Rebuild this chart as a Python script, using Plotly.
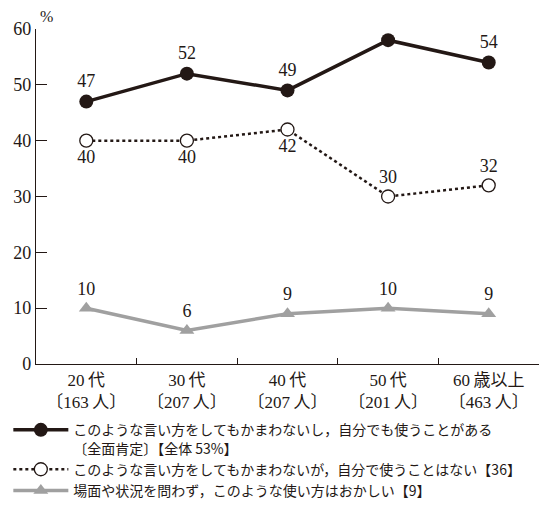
import plotly.graph_objects as go

categories = ["20\u2009代<br>〔163\u2009人〕", "30\u2009代<br>〔207\u2009人〕", "40\u2009代<br>〔207\u2009人〕",
              "50\u2009代<br>〔201\u2009人〕", "60\u2009歳以上<br>〔463\u2009人〕"]
full_yes = [47, 52, 49, 58, 54]
ok_not_use = [40, 40, 42, 30, 32]
strange = [10, 6, 9, 10, 9]
names = [
    "このような言い方をしてもかまわないし，自分でも使うことがある<br>〔全面肯定〕【全体\u200953%】",
    "このような言い方をしてもかまわないが，自分で使うことはない【36】",
    "場面や状況を問わず，このような使い方はおかしい【9】",
]
ok_pos = ["bottom center", "bottom center", "bottom center", "top center", "top center"]

DARK = "#231815"
GRAY = "#a0a0a0"
NUMFONT = "Liberation Serif"
TICKFONT = "'Liberation Serif', 'Noto Sans CJK JP', serif"

fig = go.Figure()
fig.add_trace(go.Scatter(
    x=categories, y=full_yes, name=names[0], mode="lines+markers+text",
    text=[str(v) for v in full_yes], textposition="top center",
    textfont=dict(family=NUMFONT, size=18, color=DARK),
    line=dict(color=DARK, width=3.5),
    marker=dict(symbol="circle", size=14, color=DARK),
))
fig.add_trace(go.Scatter(
    x=categories, y=ok_not_use, name=names[1], mode="lines+markers+text",
    text=[str(v) for v in ok_not_use], textposition=ok_pos,
    textfont=dict(family=NUMFONT, size=18, color=DARK),
    line=dict(color=DARK, width=2.5, dash="dot"),
    marker=dict(symbol="circle", size=13, color="white", line=dict(color=DARK, width=1.3)),
))
fig.add_trace(go.Scatter(
    x=categories, y=strange, name=names[2], mode="lines+markers+text",
    text=[str(v) for v in strange], textposition="top center",
    textfont=dict(family=NUMFONT, size=18, color=DARK),
    line=dict(color=GRAY, width=3.5),
    marker=dict(symbol="triangle-up", size=13, color=GRAY),
))

fig.update_layout(
    width=549, height=509,
    margin=dict(l=36, r=10, t=29, b=145, autoexpand=False),
    paper_bgcolor="white", plot_bgcolor="white",
    font=dict(family=TICKFONT, color=DARK, size=16),
    showlegend=True,
    legend=dict(
        x=-0.055, y=-0.15, xanchor="left", yanchor="top",
        font=dict(family="Noto Sans CJK JP", size=14, color=DARK),
        valign="top", tracegroupgap=0, itemwidth=55,
        bgcolor="rgba(0,0,0,0)",
    ),
    annotations=[dict(
        text="%", xref="paper", yref="paper", x=0.0, y=1.0, xanchor="left", yanchor="bottom",
        xshift=2, yshift=2, showarrow=False, font=dict(family=NUMFONT, size=16, color=DARK),
    )],
)
fig.update_xaxes(
    type="category", range=[-0.5, 4.5], showline=True, linecolor=DARK, linewidth=1.3,
    ticks="inside", tickson="boundaries", ticklen=6, tickcolor=DARK, tickwidth=1,
    showgrid=False, zeroline=False, tickfont=dict(family=TICKFONT, size=17, color=DARK),
)
fig.update_yaxes(
    range=[0, 60], dtick=10, showline=True, linecolor=DARK, linewidth=1.3,
    ticks="inside", ticklen=11, tickcolor=DARK, tickwidth=1,
    showgrid=False, zeroline=False, tickfont=dict(family=NUMFONT, size=18, color=DARK),
)

fig.write_html("out.html")
